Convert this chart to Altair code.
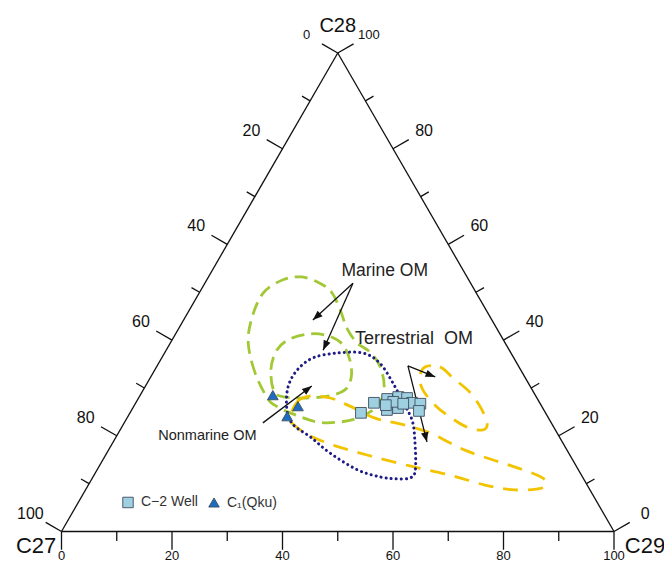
import math
import altair as alt
import pandas as pd

# ------------------------------------------------------------------
# Data: ternary compositions in %, C27 = 100 - C28 - C29
# ------------------------------------------------------------------
well_c28 = [24.8, 26.9, 27.7, 25.4, 28.1, 25.8, 27.9, 26.9, 26.7, 25.2, 27.1, 26.7, 26.4]
well_c29 = [41.8, 43.1, 45.1, 46.2, 46.9, 48.0, 48.6, 50.0, 51.6, 52.1, 46.5, 48.5, 45.5]

qku_c28 = [28.5, 26.2, 24.1]
qku_c29 = [24.0, 29.7, 28.8]

series_names = ["C\u22122 Well", "C\u2081(Qku)"]

# Field outlines (closed), ternary %
marine_outer_c28 = [27.9, 33.1, 39.4, 44.8, 49.9, 52.6, 53.2, 51.9, 49.9, 46.3, 42.5, 39.4,
                    37.5, 34.4, 30.0, 26.4, 23.9, 22.9, 22.9, 24.8, 26.4]
marine_outer_c29 = [23.3, 18.5, 14.1, 12.1, 11.6, 13.8, 16.9, 20.8, 24.0, 27.3, 30.4, 33.8,
                    37.1, 40.5, 43.4, 44.1, 42.1, 39.0, 34.8, 29.0, 25.4]

marine_inner_c28 = [29.2, 33.8, 37.9, 40.2, 41.3, 40.9, 39.2, 35.8, 32.3, 29.6, 28.3, 27.9, 28.1]
marine_inner_c29 = [23.9, 21.0, 20.0, 21.2, 24.3, 27.8, 31.2, 34.3, 36.3, 36.5, 34.1, 30.1, 26.4]

nonmarine_c28 = [25.4, 30.2, 33.8, 36.3, 37.3, 37.3, 35.2, 31.0, 26.9, 23.3, 19.1, 12.9, 11.2,
                 11.0, 11.4, 12.9, 16.4, 19.8, 22.3]
nonmarine_c29 = [28.1, 25.9, 25.8, 27.4, 31.2, 35.9, 40.0, 44.5, 48.4, 51.8, 54.4, 57.6, 57.5,
                 55.2, 52.0, 47.1, 40.4, 35.1, 30.8]

terr_small_c28 = [34.4, 34.4, 32.1, 29.0, 25.4, 22.3, 21.2, 21.8, 23.9, 26.4, 29.6, 32.3]
terr_small_c29 = [48.6, 51.3, 54.8, 59.5, 63.4, 65.9, 65.5, 62.5, 58.4, 54.4, 50.6, 48.7]

terr_big_c28 = [23.7, 27.1, 28.3, 27.9, 26.2, 23.7, 22.5, 20.6, 17.0, 14.5, 12.4, 10.8, 9.1,
                8.7, 9.7, 11.8, 13.7, 15.8, 17.9, 20.0, 22.1]
terr_big_c29 = [29.5, 29.1, 30.8, 34.7, 39.1, 44.9, 50.0, 56.4, 64.5, 72.1, 78.6, 82.1, 82.4,
                77.7, 71.8, 64.4, 56.2, 48.0, 40.6, 35.0, 31.2]

# Annotation arrows (start -> tip), ternary %
arrow_from_c28 = [51.9, 51.9, 34.6, 34.6, 22.7]
arrow_from_c29 = [26.8, 26.8, 45.4, 45.4, 25.1]
arrow_to_c28 = [44.2, 37.9, 32.3, 18.7, 30.4]
arrow_to_c29 = [23.4, 28.4, 51.5, 56.8, 30.1]

note_text = ["Marine OM", "Terrestrial\u00a0\u00a0OM", "Nonmarine OM"]
note_c28 = [54.4, 40.2, 20.0]
note_c29 = [31.3, 43.7, 16.4]
note_fs = [17.5, 18, 14.5]

tick_values = list(range(0, 101, 10))

# ------------------------------------------------------------------
# Layout
# ------------------------------------------------------------------
W, H = 656, 555
UNIT = 5.525                     # px per ternary unit
OX, OY = 53.5, 523.5             # C27 corner in plot pixels
XDOM = [-OX / UNIT, (W - OX) / UNIT]
YDOM = [(OY - H) / UNIT, OY / UNIT]
S3 = math.sqrt(3) / 2
FONT = "Liberation Sans, Arial, sans-serif"

GREEN = "#A2C836"
YELLOW = "#F2C400"
NAVY = "#1E1A86"


def proj(c28, c29):
    return c29 + c28 / 2.0, c28 * S3


xs = alt.Scale(domain=XDOM, nice=False, zero=False)
ys = alt.Scale(domain=YDOM, nice=False, zero=False)
X = alt.X("X:Q", scale=xs, axis=None)
Y = alt.Y("Y:Q", scale=ys, axis=None)
CALC = dict(X="datum.C29 + datum.C28 / 2", Y="datum.C28 * sqrt(3) / 2")

# ---- triangle frame and ticks ----
frame_rows = []
for a, b in [((0, 0), (0, 100)), ((0, 100), (100, 0)), ((100, 0), (0, 0))]:
    x1, y1 = proj(*a)
    x2, y2 = proj(*b)
    frame_rows.append(dict(X=x1, Y=y1, X2=x2, Y2=y2))

MAJ, MIN = 3.3, 1.7
LAB = 6.5
BLAB = 4.45
tick_rows, label_rows = [], []
for v in tick_values:
    L = MAJ if v % 20 == 0 else MIN
    # bottom axis (C29), ticks downward
    x0, y0 = proj(0, v)
    tick_rows.append(dict(X=x0, Y=y0, X2=x0, Y2=y0 - L))
    if v % 20 == 0:
        label_rows.append(dict(X=x0, Y=y0 - BLAB, text=str(v), fs=13))
    # left axis (C27), 0 at top
    x0, y0 = proj(100 - v, 0)
    dx, dy = -0.866, 0.5
    tick_rows.append(dict(X=x0, Y=y0, X2=x0 + dx * L, Y2=y0 + dy * L))
    if v % 20 == 0:
        label_rows.append(dict(X=x0 + dx * LAB, Y=y0 + dy * LAB, text=str(v),
                               fs=13 if v == 0 else 16))
    # right axis (C28), 0 at C29 corner
    x0, y0 = proj(v, 100 - v)
    dx, dy = 0.866, 0.5
    tick_rows.append(dict(X=x0, Y=y0, X2=x0 + dx * L, Y2=y0 + dy * L))
    if v % 20 == 0:
        label_rows.append(dict(X=x0 + dx * LAB, Y=y0 + dy * LAB, text=str(v),
                               fs=13 if v == 100 else 16))

corner_rows = [
    dict(X=50.0, Y=91.5, text="C28", fs=20),
    dict(X=-4.6, Y=-2.6, text="C27", fs=22),
    dict(X=105.6, Y=-2.6, text="C29", fs=22),
]

frame = alt.Chart(pd.DataFrame(frame_rows + tick_rows)).mark_rule(
    color="#111", strokeWidth=1.3
).encode(x=X, y=Y, x2="X2:Q", y2="Y2:Q")

tick_text = alt.Chart(pd.DataFrame(label_rows + corner_rows)).mark_text(
    font=FONT, color="#111", baseline="middle", align="center"
).encode(x=X, y=Y, text="text:N", size=alt.Size("fs:Q", scale=None))

# ---- field outlines ----
rows = []
for name, c28s, c29s in [
    ("marine_outer", marine_outer_c28, marine_outer_c29),
    ("marine_inner", marine_inner_c28, marine_inner_c29),
    ("nonmarine", nonmarine_c28, nonmarine_c29),
    ("terr_small", terr_small_c28, terr_small_c29),
    ("terr_big", terr_big_c28, terr_big_c29),
]:
    for i, (a, b) in enumerate(zip(c28s, c29s)):
        rows.append(dict(region=name, i=i, C28=a, C29=b))
fields = alt.Chart(pd.DataFrame(rows)).transform_calculate(**CALC)

green = fields.transform_filter(
    alt.FieldOneOfPredicate(field="region", oneOf=["marine_outer", "marine_inner"])
).mark_line(color=GREEN, strokeWidth=2.8, strokeDash=[13, 7],
            interpolate="cardinal-closed").encode(x=X, y=Y, detail="region:N", order="i:Q")

yellow = fields.transform_filter(
    alt.FieldOneOfPredicate(field="region", oneOf=["terr_small", "terr_big"])
).mark_line(color=YELLOW, strokeWidth=2.8, strokeDash=[15, 10],
            interpolate="cardinal-closed").encode(x=X, y=Y, detail="region:N", order="i:Q")

navy = fields.transform_filter(
    alt.datum.region == "nonmarine"
).mark_line(color=NAVY, strokeWidth=3, strokeDash=[0.1, 5], strokeCap="round",
            interpolate="cardinal-closed").encode(x=X, y=Y, order="i:Q")

# ---- arrows ----
arow, hrow = [], []
for a28, a29, b28, b29 in zip(arrow_from_c28, arrow_from_c29, arrow_to_c28, arrow_to_c29):
    x1, y1 = proj(a28, a29)
    x2, y2 = proj(b28, b29)
    arow.append(dict(X=x1, Y=y1, X2=x2, Y2=y2))
    ang = math.degrees(math.atan2(x2 - x1, y2 - y1)) % 360
    hrow.append(dict(X=x2, Y=y2, angle=ang))
arrows = alt.Chart(pd.DataFrame(arow)).mark_rule(color="#111", strokeWidth=1.3).encode(
    x=X, y=Y, x2="X2:Q", y2="Y2:Q")
heads = alt.Chart(pd.DataFrame(hrow)).mark_point(
    shape="M0,0L0.38,1L-0.38,1Z", filled=True, color="#111", opacity=1, size=380
).encode(x=X, y=Y, angle=alt.Angle("angle:Q", scale=None))

notes = alt.Chart(pd.DataFrame(dict(text=note_text, C28=note_c28, C29=note_c29, fs=note_fs))).transform_calculate(
    **CALC).mark_text(font=FONT, color="#222", baseline="middle", align="center").encode(
    x=X, y=Y, text="text:N", size=alt.Size("fs:Q", scale=None))

# ---- samples ----
pts = pd.DataFrame(
    dict(series=[series_names[0]] * len(well_c28) + [series_names[1]] * len(qku_c28),
         C28=well_c28 + qku_c28, C29=well_c29 + qku_c29)
)
samples = alt.Chart(pts).transform_calculate(**CALC).mark_point(
    filled=True, opacity=1, stroke="#3E4E5C", strokeWidth=0.9
).encode(
    x=X, y=Y,
    color=alt.Color("series:N", scale=alt.Scale(domain=series_names, range=["#9FD0E2", "#1C6DC2"]),
                    legend=alt.Legend(orient="none", legendX=113, legendY=487, direction="horizontal",
                                      title=None, labelFont=FONT, labelFontSize=14, labelColor="#333",
                                      symbolSize=110, symbolStrokeColor="#3E4E5C", symbolStrokeWidth=0.9,
                                      labelOffset=6, columnPadding=8, padding=0)),
    shape=alt.Shape("series:N", scale=alt.Scale(domain=series_names, range=["square", "triangle-up"])),
    size=alt.value(115),
)

chart = alt.layer(green, yellow, navy, frame, tick_text, arrows, heads, notes, samples).properties(
    width=W, height=H, padding=0, background="white", autosize=alt.AutoSizeParams(type="none")
).configure_view(stroke=None)

chart.save("out.html", embed_options={"renderer": "svg", "actions": False})
